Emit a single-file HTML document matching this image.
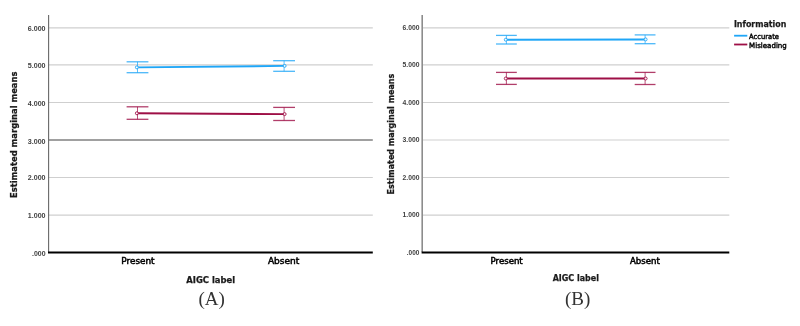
<!DOCTYPE html>
<html><head><meta charset="utf-8"><title>Estimated marginal means</title>
<style>
html,body{margin:0;padding:0;background:#fff;width:800px;height:326px;overflow:hidden}
svg{display:block}
text{font-family:'DejaVu Sans', 'Liberation Sans', sans-serif;fill:#1e1e1e}
.tk{font-family:'Liberation Sans', 'DejaVu Sans', sans-serif;font-weight:bold;fill:#404040}
.bt{font-weight:bold;fill:#1a1a1a;stroke:#1a1a1a;stroke-width:0.25px}
.xt{font-weight:normal;fill:#000;stroke:#000;stroke-width:0.5px}
.lg{fill:#000;stroke:#000;stroke-width:0.4px}
.cap{font-family:'Liberation Serif','DejaVu Serif',serif;fill:#333}
</style></head>
<body>
<svg width="800" height="326" viewBox="0 0 800 326">
<rect width="800" height="326" fill="#fff"/>
<line x1="48.6" y1="27.9" x2="372.8" y2="27.9" stroke="#cfcfcf" stroke-width="1.1"/>
<line x1="48.6" y1="64.9" x2="372.8" y2="64.9" stroke="#cfcfcf" stroke-width="1.1"/>
<line x1="48.6" y1="102.5" x2="372.8" y2="102.5" stroke="#cfcfcf" stroke-width="1.1"/>
<line x1="48.6" y1="140.05" x2="372.8" y2="140.05" stroke="#a0a0a0" stroke-width="2"/>
<line x1="48.6" y1="177.5" x2="372.8" y2="177.5" stroke="#cfcfcf" stroke-width="1.1"/>
<line x1="48.6" y1="215.1" x2="372.8" y2="215.1" stroke="#cfcfcf" stroke-width="1.1"/>
<line x1="48.6" y1="15" x2="48.6" y2="252" stroke="#686868" stroke-width="1.1"/>
<line x1="48.0" y1="252.6" x2="372.8" y2="252.6" stroke="#000" stroke-width="2"/>
<text x="45.6" y="31.00" text-anchor="end" class="tk" style="font-size:7.60px" textLength="17.90" lengthAdjust="spacingAndGlyphs">6.000</text>
<text x="45.6" y="68.00" text-anchor="end" class="tk" style="font-size:7.60px" textLength="17.90" lengthAdjust="spacingAndGlyphs">5.000</text>
<text x="45.6" y="105.80" text-anchor="end" class="tk" style="font-size:7.60px" textLength="17.90" lengthAdjust="spacingAndGlyphs">4.000</text>
<text x="45.6" y="143.50" text-anchor="end" class="tk" style="font-size:7.60px" textLength="17.90" lengthAdjust="spacingAndGlyphs">3.000</text>
<text x="45.6" y="180.40" text-anchor="end" class="tk" style="font-size:7.60px" textLength="17.90" lengthAdjust="spacingAndGlyphs">2.000</text>
<text x="45.6" y="218.00" text-anchor="end" class="tk" style="font-size:7.60px" textLength="17.90" lengthAdjust="spacingAndGlyphs">1.000</text>
<text x="45.6" y="255.80" text-anchor="end" class="tk" style="font-size:7.60px" textLength="13.60" lengthAdjust="spacingAndGlyphs">.000</text>
<line x1="137.5" y1="61.8" x2="137.5" y2="72.7" stroke="#1fa6f7" stroke-width="0.9" opacity="0.8"/>
<line x1="126.6" y1="61.8" x2="148.4" y2="61.8" stroke="#1fa6f7" stroke-width="1.3" opacity="0.8"/>
<line x1="126.6" y1="72.7" x2="148.4" y2="72.7" stroke="#1fa6f7" stroke-width="1.3" opacity="0.8"/>
<line x1="284.1" y1="60.7" x2="284.1" y2="71.3" stroke="#1fa6f7" stroke-width="0.9" opacity="0.8"/>
<line x1="273.2" y1="60.7" x2="295.0" y2="60.7" stroke="#1fa6f7" stroke-width="1.3" opacity="0.8"/>
<line x1="273.2" y1="71.3" x2="295.0" y2="71.3" stroke="#1fa6f7" stroke-width="1.3" opacity="0.8"/>
<line x1="137.5" y1="67.35" x2="284.1" y2="65.9" stroke="#1fa6f7" stroke-width="1.95"/>
<circle cx="136.9" cy="67.35" r="1.5" fill="#fff" fill-opacity="0.8" stroke="#1fa6f7" stroke-width="0.9"/>
<circle cx="284.6" cy="65.9" r="1.5" fill="#fff" fill-opacity="0.8" stroke="#1fa6f7" stroke-width="0.9"/>
<line x1="137.5" y1="106.8" x2="137.5" y2="119.3" stroke="#9e0f46" stroke-width="0.9" opacity="0.8"/>
<line x1="126.6" y1="106.8" x2="148.4" y2="106.8" stroke="#9e0f46" stroke-width="1.3" opacity="0.8"/>
<line x1="126.6" y1="119.3" x2="148.4" y2="119.3" stroke="#9e0f46" stroke-width="1.3" opacity="0.8"/>
<line x1="284.1" y1="107.4" x2="284.1" y2="120.5" stroke="#9e0f46" stroke-width="0.9" opacity="0.8"/>
<line x1="273.2" y1="107.4" x2="295.0" y2="107.4" stroke="#9e0f46" stroke-width="1.3" opacity="0.8"/>
<line x1="273.2" y1="120.5" x2="295.0" y2="120.5" stroke="#9e0f46" stroke-width="1.3" opacity="0.8"/>
<line x1="137.5" y1="113.25" x2="284.1" y2="114.1" stroke="#9e0f46" stroke-width="1.95"/>
<circle cx="136.9" cy="113.25" r="1.5" fill="#fff" fill-opacity="0.8" stroke="#9e0f46" stroke-width="0.9"/>
<circle cx="284.6" cy="114.1" r="1.5" fill="#fff" fill-opacity="0.8" stroke="#9e0f46" stroke-width="0.9"/>
<line x1="422.2" y1="27.9" x2="729.3" y2="27.9" stroke="#cfcfcf" stroke-width="1.1"/>
<line x1="422.2" y1="64.9" x2="729.3" y2="64.9" stroke="#cfcfcf" stroke-width="1.1"/>
<line x1="422.2" y1="102.5" x2="729.3" y2="102.5" stroke="#cfcfcf" stroke-width="1.1"/>
<line x1="422.2" y1="140.05" x2="729.3" y2="140.05" stroke="#cfcfcf" stroke-width="1.1"/>
<line x1="422.2" y1="177.5" x2="729.3" y2="177.5" stroke="#cfcfcf" stroke-width="1.1"/>
<line x1="422.2" y1="215.1" x2="729.3" y2="215.1" stroke="#cfcfcf" stroke-width="1.1"/>
<line x1="422.2" y1="15" x2="422.2" y2="252" stroke="#8c8c8c" stroke-width="1.6"/>
<line x1="421.6" y1="252.6" x2="729.3" y2="252.6" stroke="#000" stroke-width="2"/>
<text x="419.4" y="30.20" text-anchor="end" class="tk" style="font-size:7.40px" textLength="16.90" lengthAdjust="spacingAndGlyphs">6.000</text>
<text x="419.4" y="67.20" text-anchor="end" class="tk" style="font-size:7.40px" textLength="16.90" lengthAdjust="spacingAndGlyphs">5.000</text>
<text x="419.4" y="104.80" text-anchor="end" class="tk" style="font-size:7.40px" textLength="16.90" lengthAdjust="spacingAndGlyphs">4.000</text>
<text x="419.4" y="142.35" text-anchor="end" class="tk" style="font-size:7.40px" textLength="16.90" lengthAdjust="spacingAndGlyphs">3.000</text>
<text x="419.4" y="179.80" text-anchor="end" class="tk" style="font-size:7.40px" textLength="16.90" lengthAdjust="spacingAndGlyphs">2.000</text>
<text x="419.4" y="217.40" text-anchor="end" class="tk" style="font-size:7.40px" textLength="16.90" lengthAdjust="spacingAndGlyphs">1.000</text>
<text x="419.4" y="254.90" text-anchor="end" class="tk" style="font-size:7.40px" textLength="12.60" lengthAdjust="spacingAndGlyphs">.000</text>
<line x1="506.4" y1="35.4" x2="506.4" y2="44.0" stroke="#1fa6f7" stroke-width="0.9" opacity="0.8"/>
<line x1="496.0" y1="35.4" x2="516.8" y2="35.4" stroke="#1fa6f7" stroke-width="1.3" opacity="0.8"/>
<line x1="496.0" y1="44.0" x2="516.8" y2="44.0" stroke="#1fa6f7" stroke-width="1.3" opacity="0.8"/>
<line x1="645.1" y1="34.9" x2="645.1" y2="43.7" stroke="#1fa6f7" stroke-width="0.9" opacity="0.8"/>
<line x1="634.7" y1="34.9" x2="655.5" y2="34.9" stroke="#1fa6f7" stroke-width="1.3" opacity="0.8"/>
<line x1="634.7" y1="43.7" x2="655.5" y2="43.7" stroke="#1fa6f7" stroke-width="1.3" opacity="0.8"/>
<line x1="506.4" y1="39.7" x2="645.1" y2="39.4" stroke="#1fa6f7" stroke-width="1.95"/>
<circle cx="505.8" cy="39.7" r="1.5" fill="#fff" fill-opacity="0.8" stroke="#1fa6f7" stroke-width="0.9"/>
<circle cx="645.6" cy="39.4" r="1.5" fill="#fff" fill-opacity="0.8" stroke="#1fa6f7" stroke-width="0.9"/>
<line x1="506.4" y1="72.4" x2="506.4" y2="84.4" stroke="#9e0f46" stroke-width="0.9" opacity="0.8"/>
<line x1="496.0" y1="72.4" x2="516.8" y2="72.4" stroke="#9e0f46" stroke-width="1.3" opacity="0.8"/>
<line x1="496.0" y1="84.4" x2="516.8" y2="84.4" stroke="#9e0f46" stroke-width="1.3" opacity="0.8"/>
<line x1="645.1" y1="72.4" x2="645.1" y2="84.5" stroke="#9e0f46" stroke-width="0.9" opacity="0.8"/>
<line x1="634.7" y1="72.4" x2="655.5" y2="72.4" stroke="#9e0f46" stroke-width="1.3" opacity="0.8"/>
<line x1="634.7" y1="84.5" x2="655.5" y2="84.5" stroke="#9e0f46" stroke-width="1.3" opacity="0.8"/>
<line x1="506.4" y1="78.5" x2="645.1" y2="78.5" stroke="#9e0f46" stroke-width="1.95"/>
<circle cx="505.8" cy="78.5" r="1.5" fill="#fff" fill-opacity="0.8" stroke="#9e0f46" stroke-width="0.9"/>
<circle cx="645.6" cy="78.5" r="1.5" fill="#fff" fill-opacity="0.8" stroke="#9e0f46" stroke-width="0.9"/>
<text class="bt" transform="translate(17.2,198.0) rotate(-90)" x="0" y="0" style="font-size:8.8px" textLength="126.5" lengthAdjust="spacingAndGlyphs">Estimated marginal means</text>
<text class="bt" transform="translate(393.6,194.5) rotate(-90)" x="0" y="0" style="font-size:8.6px" textLength="120.8" lengthAdjust="spacingAndGlyphs">Estimated marginal means</text>
<text x="121.3" y="264.4" class="xt" text-anchor="start" style="font-size:8.8px" textLength="33.3" lengthAdjust="spacingAndGlyphs">Present</text>
<text x="267.9" y="264.4" class="xt" text-anchor="start" style="font-size:8.8px" textLength="31.3" lengthAdjust="spacingAndGlyphs">Absent</text>
<text x="490.6" y="263.5" class="xt" text-anchor="start" style="font-size:8.4px" textLength="32.1" lengthAdjust="spacingAndGlyphs">Present</text>
<text x="630.0" y="263.5" class="xt" text-anchor="start" style="font-size:8.4px" textLength="29.8" lengthAdjust="spacingAndGlyphs">Absent</text>
<text x="186.3" y="282.6" class="bt" text-anchor="start" style="font-size:8.6px" textLength="48.9" lengthAdjust="spacingAndGlyphs">AIGC label</text>
<text x="552.7" y="281.2" class="bt" text-anchor="start" style="font-size:8.5px" textLength="46.2" lengthAdjust="spacingAndGlyphs">AIGC label</text>
<text x="211.7" y="305" text-anchor="middle" class="cap" style="font-size:19px">(A)</text>
<text x="577.7" y="304.5" text-anchor="middle" class="cap" style="font-size:19px">(B)</text>
<text x="733.9" y="26.6" class="bt" text-anchor="start" style="font-size:8.6px" textLength="52.5" lengthAdjust="spacingAndGlyphs">Information</text>
<line x1="734.1" y1="35.7" x2="747.3" y2="35.7" stroke="#1fa6f7" stroke-width="1.8"/>
<line x1="734.1" y1="44.5" x2="747.3" y2="44.5" stroke="#9e0f46" stroke-width="1.8"/>
<text x="749.1" y="38.9" class="lg" text-anchor="start" style="font-size:7.2px" textLength="29.9" lengthAdjust="spacingAndGlyphs">Accurate</text>
<text x="749.1" y="47.9" class="lg" text-anchor="start" style="font-size:7.2px" textLength="37.7" lengthAdjust="spacingAndGlyphs">Misleading</text>
</svg>
</body></html>
